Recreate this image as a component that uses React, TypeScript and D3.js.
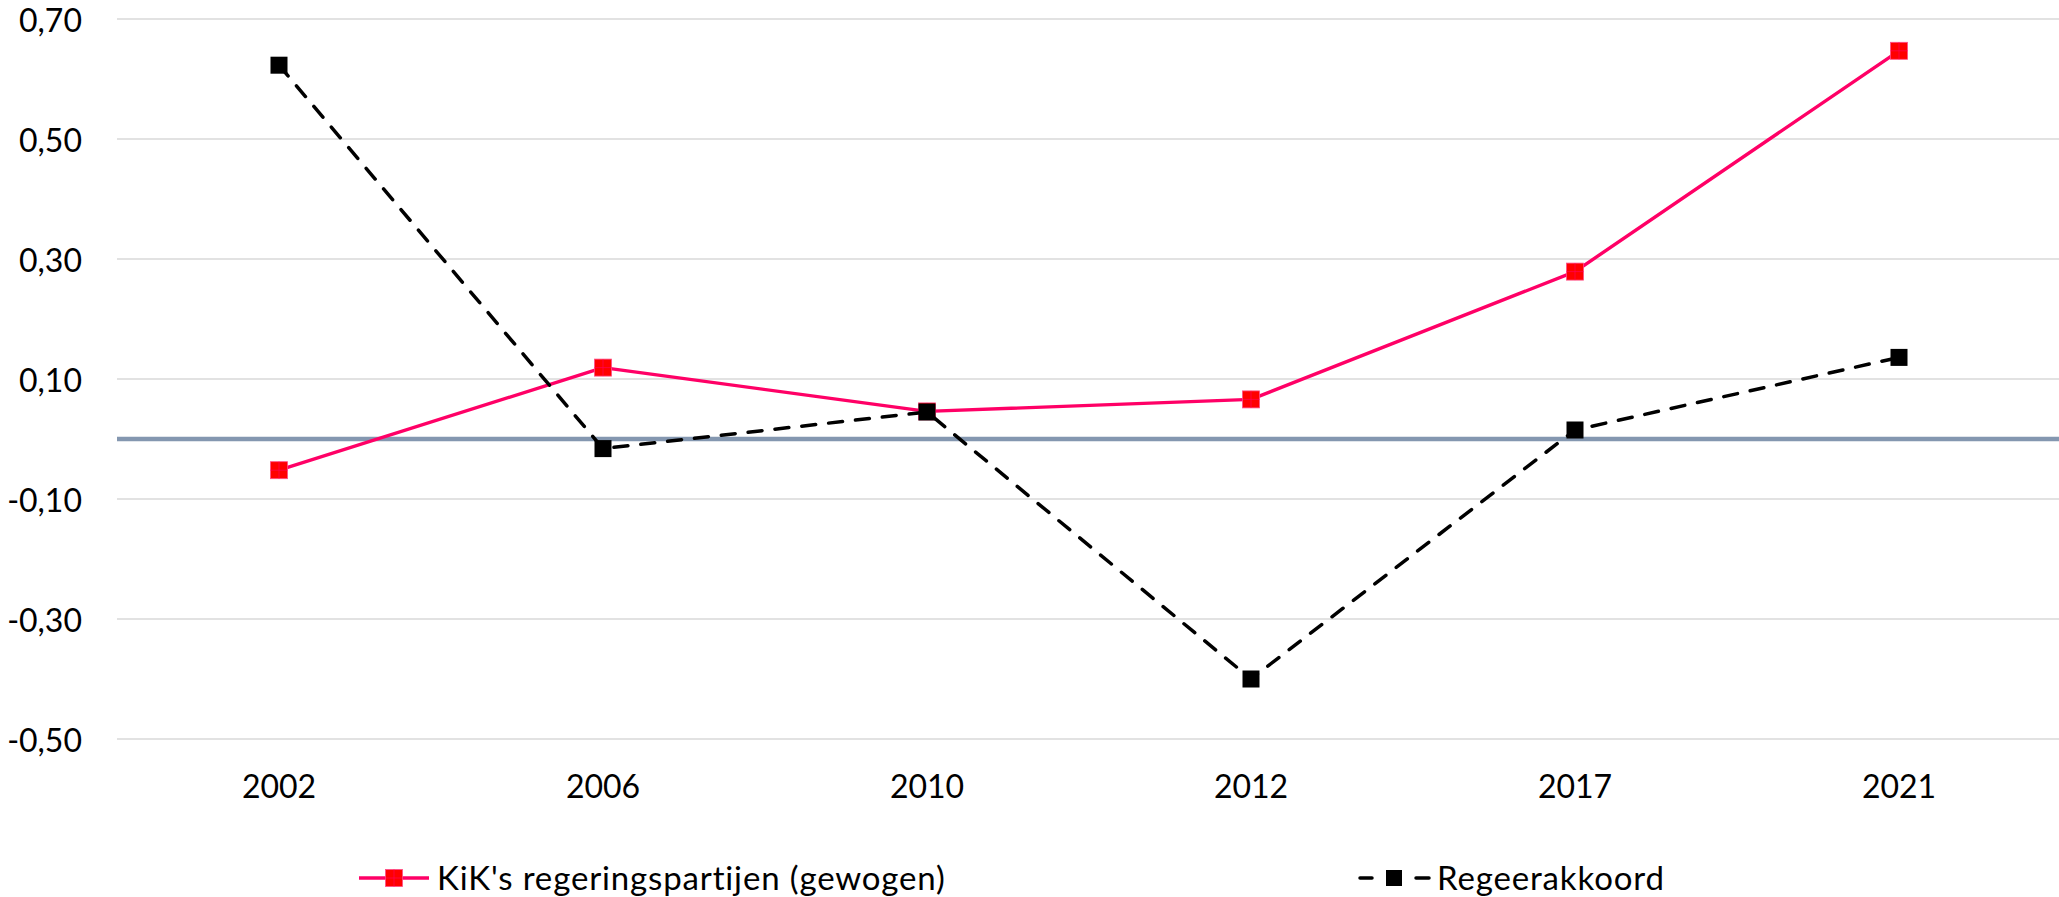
import React from "react";
import * as d3 from "d3";

const years = ["2002", "2006", "2010", "2012", "2017", "2021"];
const kikValues = [-0.052, 0.119, 0.046, 0.066, 0.279, 0.647];
const akkoordValues = [0.623, -0.016, 0.045, -0.4, 0.015, 0.136];
const yTicks = [0.7, 0.5, 0.3, 0.1, -0.1, -0.3, -0.5];
const seriesNames = ["KiK's regeringspartijen (gewogen)", "Regeerakkoord"];

const W = 2059;
const H = 897;
const FONT = "Lato, 'Open Sans', sans-serif";
const PINK = "#FF0066";
const RED = "#FF0000";

export default function App() {
  const x = d3.scaleBand<string>().domain(years).range([117, 2061]);
  const y = d3.scaleLinear().domain([-0.5, 0.7]).range([739, 19]);
  const cx = (yr: string) => (x(yr) as number) + x.bandwidth() / 2;
  const line = d3
    .line<[string, number]>()
    .x((d) => cx(d[0]))
    .y((d) => y(d[1]));
  const kik: [string, number][] = years.map((yr, i) => [yr, kikValues[i]]);
  const akk: [string, number][] = years.map((yr, i) => [yr, akkoordValues[i]]);
  const fmt = (v: number) => d3.format(".2f")(v).replace(".", ",").replace("−", "-");
  const ms = 17;

  const redMarker = (mx: number, my: number, key: string | number) => (
    <g key={key}>
      <rect x={mx - ms / 2} y={my - ms / 2} width={ms} height={ms} fill={RED} stroke="#FF4D88" strokeWidth={0.8} />
      <line x1={mx} x2={mx} y1={my - ms / 2} y2={my + ms / 2} stroke={PINK} strokeWidth={1} opacity={0.6} />
      <line x1={mx - ms / 2} x2={mx + ms / 2} y1={my} y2={my} stroke={PINK} strokeWidth={1} opacity={0.6} />
    </g>
  );

  return (
    <svg
      width={W}
      height={H}
      style={{ position: "absolute", left: 0, top: 0, display: "block", background: "#fff" }}
      fontFamily={FONT}
    >
      {yTicks.map((t) => (
        <g key={t}>
          <line x1={117} x2={W} y1={y(t)} y2={y(t)} stroke="#D9D9D9" strokeWidth={1.5} />
          <text x={82} y={y(t)} textAnchor="end" dominantBaseline="central" fontSize={32} fill="#000">
            {fmt(t)}
          </text>
        </g>
      ))}
      <line x1={117} x2={W} y1={y(0)} y2={y(0)} stroke="#8497B0" strokeWidth={4.5} />
      {years.map((yr) => (
        <text key={yr} x={cx(yr)} y={798} textAnchor="middle" fontSize={32} fill="#000">
          {yr}
        </text>
      ))}
      <path d={line(kik) as string} fill="none" stroke={PINK} strokeWidth={3.4} strokeLinejoin="round" />
      {kik.map((d, i) => redMarker(cx(d[0]), y(d[1]), i))}
      <path
        d={line(akk) as string}
        fill="none"
        stroke="#000"
        strokeWidth={3.5}
        strokeDasharray="14 13"
        strokeLinecap="round"
      />
      {akk.map((d, i) => (
        <rect key={i} x={cx(d[0]) - ms / 2} y={y(d[1]) - ms / 2} width={ms} height={ms} fill="#000" />
      ))}
      {/* legend */}
      <g>
        <line x1={359} x2={429} y1={878} y2={878} stroke={PINK} strokeWidth={3.4} />
        {redMarker(394, 878, "l1")}
        <text x={437} y={890} fontSize={33} letterSpacing={0.85} fill="#000">
          {seriesNames[0]}
        </text>
        <line x1={1360} x2={1372} y1={878} y2={878} stroke="#000" strokeWidth={3.5} strokeLinecap="round" />
        <rect x={1386} y={870} width={16} height={16} fill="#000" />
        <line x1={1416} x2={1429} y1={878} y2={878} stroke="#000" strokeWidth={3.5} strokeLinecap="round" />
        <text x={1437} y={890} fontSize={33} letterSpacing={0.85} fill="#000">
          {seriesNames[1]}
        </text>
      </g>
    </svg>
  );
}
